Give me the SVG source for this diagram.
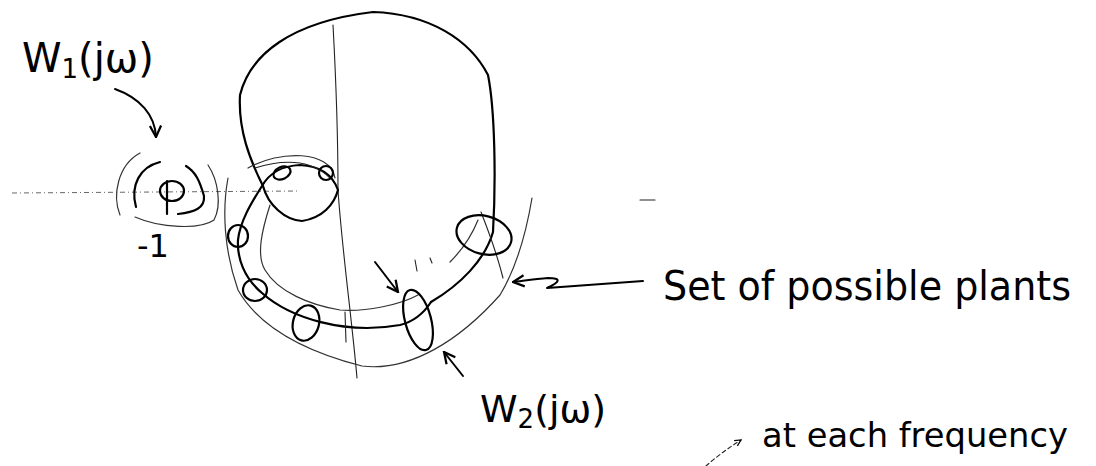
<svg xmlns="http://www.w3.org/2000/svg" width="1096" height="466" viewBox="0 0 1096 466">
<style>
.main{fill:none;stroke:#000;stroke-width:2.2;stroke-linecap:round;stroke-linejoin:round}
.thin{fill:none;stroke:#222;stroke-width:1.1;stroke-linecap:round}
.band{fill:none;stroke:#333;stroke-width:1.2;stroke-linecap:round}
.faint{fill:none;stroke:#666;stroke-width:1;stroke-dasharray:5 3 1 3}
.arr{fill:none;stroke:#000;stroke-width:2;stroke-linecap:round;stroke-linejoin:round}
.t{font-family:"DejaVu Sans","Liberation Sans",sans-serif;fill:#000}
</style>
<defs>
<marker id="ah" viewBox="0 0 10 10" refX="9" refY="5" markerWidth="7" markerHeight="7" orient="auto-start-reverse">
<path d="M1,1 L9,5 L1,9" fill="none" stroke="#000" stroke-width="1.6"/>
</marker>
</defs>

<g id="axes">
<path class="faint" d="M12,193 L300,191"/>
<path class="thin" d="M640,200 L655,200"/>
<path class="thin" d="M333,25 C336,80 338,140 338,190 C342,250 352,320 357,378"/>
</g>

<g id="nominal">
<path class="main" d="M263,186 C250,160 238,130 240,95 C250,55 290,22 373,12 C430,14 470,40 488,75 C495,110 496,180 493,232 C485,260 460,285 431,302"/>
<path class="main" d="M263,186 C268,205 285,220 302,221 C322,218 334,205 338,190 C333,176 322,166 300,165 C282,166 270,172 262,186 C250,205 240,222 238,240 C237,258 244,278 262,293 C290,318 345,335 400,325 C412,322 422,316 431,302"/>
</g>

<g id="band">
<path class="band" d="M228,178 C222,210 224,250 238,290 C258,325 300,350 362,366 C410,372 460,340 500,295 C515,270 525,240 532,198"/>
<path class="band" d="M248,168 C280,150 330,150 335,178"/>
<path class="band" d="M270,205 C262,230 256,255 265,270 C278,292 310,305 340,310 C365,312 400,305 418,295"/>
<path class="band" d="M450,262 C462,250 472,235 478,220"/>
<path class="thin" d="M255,168 C280,160 310,158 330,178"/>
<path class="thin" d="M481,212 C492,240 499,262 503,278"/>
<path class="thin" d="M415,260 L417,271 M430,258 L432,263"/>
</g>

<g id="disks">
<ellipse class="main" cx="238" cy="236" rx="10" ry="11"/>
<ellipse class="main" cx="255" cy="290" rx="12" ry="11"/>
<ellipse class="main" cx="306" cy="323" rx="13" ry="18" transform="rotate(15 306 323)"/>
<ellipse class="main" cx="418" cy="320" rx="13" ry="31" transform="rotate(-15 418 320)"/>
<ellipse class="main" cx="484" cy="235" rx="28" ry="19" transform="rotate(15 484 235)"/>
<ellipse class="main" cx="282" cy="173" rx="9" ry="6" transform="rotate(-25 282 173)"/>
<ellipse class="main" cx="326" cy="173" rx="7" ry="7"/>
<path class="thin" d="M345,312 L346,342"/>
</g>

<g id="w1disk">
<ellipse class="main" cx="172" cy="191" rx="12" ry="10"/>
<path class="main" d="M167,181 L167,214"/>
<path class="main" d="M136,207 C130,185 140,167 160,162 M178,214 C195,212 205,208 204,196 C200,182 196,172 186,166"/>
<path class="band" d="M120,215 C112,195 118,165 140,153 M135,217 C160,228 200,230 214,220 C222,205 218,180 208,165"/>
</g>

<g id="connectors">
<path class="arr" d="M115,89 C140,98 155,115 156,137" marker-end="url(#ah)"/>
<path class="arr" d="M643,281 L547,288 C560,282 562,278 548,278 C535,279 522,281 513,282" marker-end="url(#ah)"/>
<path class="arr" d="M463,376 L444,352" marker-end="url(#ah)"/>
<path class="arr" d="M375,262 L398,292" marker-end="url(#ah)"/>
<path class="thin" d="M706,466 C715,458 728,448 741,440" stroke-dasharray="4 3" marker-end="url(#ah)"/>
</g>

<g id="labels">
<text class="t" x="22" y="72" font-size="40">W<tspan font-size="26" dy="6">1</tspan><tspan dy="-6">(jω)</tspan></text>
<text class="t" x="137" y="257" font-size="32">-1</text>
<text class="t" x="663" y="300" font-size="40" textLength="408" lengthAdjust="spacingAndGlyphs">Set of possible plants</text>
<text class="t" x="480" y="422" font-size="38">W<tspan font-size="26" dy="6">2</tspan><tspan dy="-6">(jω)</tspan></text>
<text class="t" x="762" y="447" font-size="34" textLength="306" lengthAdjust="spacingAndGlyphs">at each frequency</text>
</g>
</svg>
